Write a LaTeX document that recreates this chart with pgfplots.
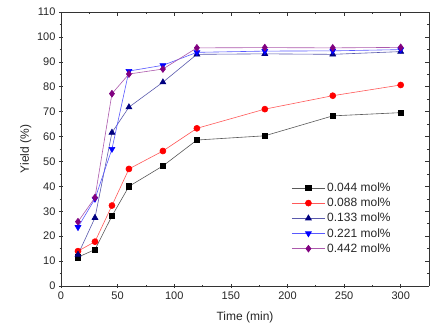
\documentclass[border=0pt]{standalone}
\usepackage{pgfplots}
\pgfplotsset{compat=1.18}
\usepackage{fontspec}
\setmainfont{Liberation Sans}
\definecolor{cnavy}{RGB}{0,0,128}
\definecolor{cblue}{RGB}{0,0,255}
\definecolor{cpurp}{RGB}{128,0,128}
\begin{document}
\begin{tikzpicture}
\useasboundingbox (-61pt,-46pt) rectangle (382pt,286pt);
\pgfplotsset{
  myaxis/.style={
    width=368pt, height=274pt, scale only axis,
    xmin=0, xmax=325, ymin=0, ymax=110,
    xtick={0,50,...,300}, ytick={0,10,...,110},
    minor x tick num=1, minor y tick num=1,
    major tick length=4pt, minor tick length=2.5pt,
    /pgf/number format/assume math mode=true,
    tick label style={font=\fontsize{11}{13}\selectfont, text=black!85},
    axis line style={line width=0.8pt, black!80},
    every tick/.style={black!80, line width=0.6pt},
  }
}
\begin{axis}[myaxis,
  axis x line*=bottom, axis y line*=left,
  tick align=center,
  xlabel={Time (min)}, ylabel={Yield (\%)},
  label style={font=\fontsize{12}{14}\selectfont, text=black!85},
  xlabel style={yshift=-6pt},
  ylabel style={yshift=-1pt},
  legend style={at={(0.618,0.392)}, anchor=north west, draw=none, fill=none,
    font=\fontsize{12}{14}\selectfont, row sep=1pt, text=black!85,
    /tikz/every even column/.append style={column sep=0pt}},
  legend cell align=left,
  legend image code/.code={\draw[mark repeat=2,mark phase=2] plot coordinates {(0cm,0cm) (0.58cm,0cm) (1.16cm,0cm)};},
  every axis plot/.append style={line width=0.6pt},
]
\addplot[black!65, mark=square*, mark size=2.7pt, mark options={fill=black, draw=black}]
 coordinates {(15,11.6) (30,14.6) (45,28.1) (60,40) (90,48.2) (120,58.6) (180,60.3) (240,68.3) (300,69.6)};
\addlegendentry{0.044 mol\%}
\addplot[red!65, mark=*, mark size=3pt, mark options={fill=red, draw=red}]
 coordinates {(15,14.0) (30,17.8) (45,32.3) (60,47) (90,54.2) (120,63.3) (180,71) (240,76.4) (300,80.7)};
\addlegendentry{0.088 mol\%}
\addplot[cnavy!65, mark=triangle*, mark size=3.4pt, mark options={fill=cnavy, draw=cnavy}]
 coordinates {(15,12.6) (30,27.4) (45,61.6) (60,71.8) (90,81.8) (120,93.0) (180,93.2) (240,93.0) (300,94.1)};
\addlegendentry{0.133 mol\%}
\addplot[cblue!65, mark=triangle*, mark size=3.4pt, mark options={fill=cblue, draw=cblue, rotate=180}]
 coordinates {(15,23.6) (30,35.0) (45,55) (60,86.3) (90,88.6) (120,93.8) (180,94.3) (240,94.4) (300,94.9)};
\addlegendentry{0.221 mol\%}
\addplot[cpurp!65, mark=diamond*, mark size=3.4pt, mark options={fill=cpurp, draw=cpurp}]
 coordinates {(15,25.8) (30,35.5) (45,77.2) (60,85.1) (90,87.1) (120,95.6) (180,95.7) (240,95.6) (300,95.8)};
\addlegendentry{0.442 mol\%}
\end{axis}
\begin{axis}[myaxis,
  axis x line*=top, axis y line*=right,
  tick align=inside,
  xticklabels={}, yticklabels={},
]
\end{axis}
\end{tikzpicture}
\end{document}
